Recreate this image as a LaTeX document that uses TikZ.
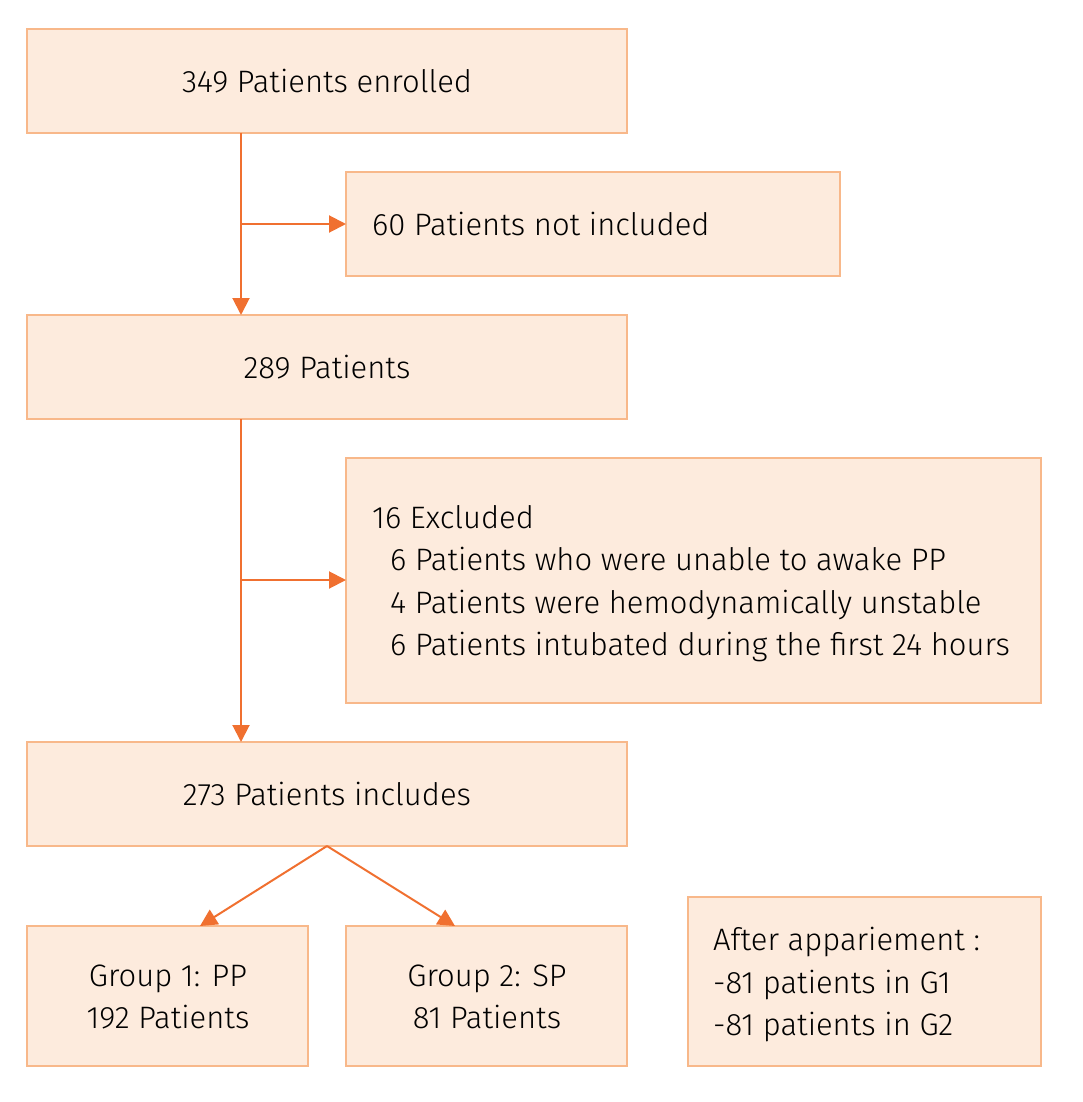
\documentclass[tikz,border=0pt]{standalone}
\usepackage{fontspec}
\setmainfont{Fira Sans Light}
\usetikzlibrary{arrows.meta,calc}
\definecolor{boxfill}{HTML}{FDEBDD}
\definecolor{boxline}{HTML}{F8B88A}
\definecolor{arrowc}{HTML}{F07030}
\begin{document}
\begin{tikzpicture}[x=1pt,y=-1pt,
  box/.style={draw=boxline,fill=boxfill,line width=2pt},
  txt/.style={font=\fontsize{31}{42.5}\selectfont,inner sep=0pt},
  conn/.style={draw=arrowc,line width=2pt,-{Triangle[length=17pt,width=17pt]}}]
\useasboundingbox (0,0) rectangle (1083,1102);
% boxes
\path[box] (27,29) rectangle (627,133);
\node[txt] (a) at (327,81) {349 Patients enrolled};
\coordinate (atop) at (241,133);
\path[box] (346,172) rectangle (840,276);
\node[txt,anchor=west] (b) at (372,224) {60 Patients not included};
\coordinate (bleft) at (346,224);
\path[box] (27,315) rectangle (627,419);
\node[txt] (c) at (327,367) {289 Patients};
\coordinate (ctop) at (241,315);
\coordinate (cbot) at (241,419);
\path[box] (346,458) rectangle (1041,703);
\node[txt,anchor=north west,align=left] (d) at (372,505) {16 Excluded\\
\hspace*{18pt}6 Patients who were unable to awake PP\\
\hspace*{18pt}4 Patients were hemodynamically unstable\\
\hspace*{18pt}6 Patients intubated during the first 24 hours};
\coordinate (dleft) at (346,580);
\path[box] (27,742) rectangle (627,846);
\node[txt] (e) at (327,794) {273 Patients includes};
\coordinate (etop) at (241,742);
\coordinate (ebot) at (327,846);
\path[box] (27,926) rectangle (308,1066);
\node[txt,align=center] (f) at (168,997) {Group 1: PP\\192 Patients};
\coordinate (ftop) at (200,926);
\path[box] (346,926) rectangle (627,1066);
\node[txt,align=center] (g) at (487,997) {Group 2: SP\\81 Patients};
\coordinate (gtop) at (455,926);
\path[box] (688,897) rectangle (1041,1066);
\node[txt,anchor=north west,align=left] (h) at (713,927) {After appariement :\\-81 patients in G1\\-81 patients in G2};
% connectors
\draw[conn] (atop) -- (ctop);
\draw[conn] (241,224) -- (bleft);
\draw[conn] (cbot) -- (etop);
\draw[conn] (241,580) -- (dleft);
\draw[conn] (ebot) -- (ftop);
\draw[conn] (ebot) -- (gtop);
\end{tikzpicture}
\end{document}
